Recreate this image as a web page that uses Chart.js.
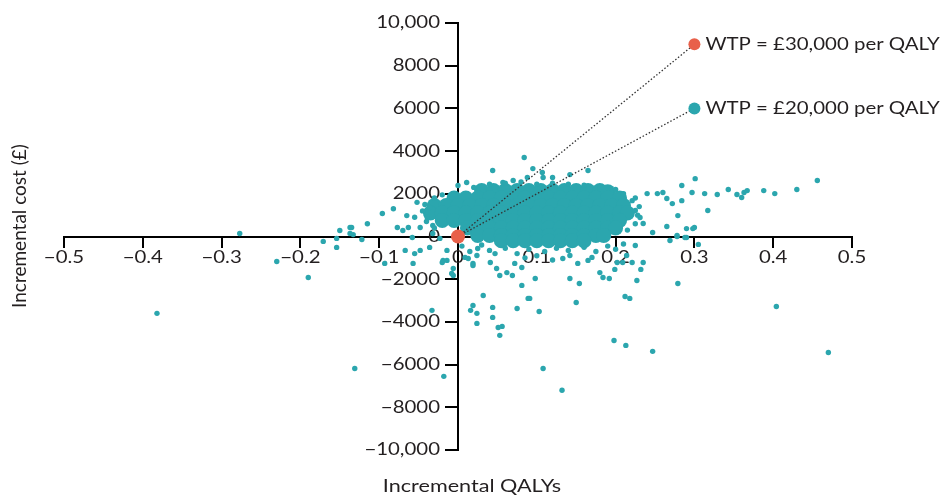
<!DOCTYPE html>
<html>
<head>
<title>Cost-effectiveness plane</title>
<script src="https://cdn.jsdelivr.net/npm/chart.js"></script>
<style>
 body { margin: 0; background: #fff; }
 #wrap { width: 952px; height: 498px; }
</style>
</head>
<body>
<div id="wrap"><canvas id="plane"></canvas></div>
<script>
// axis ticks and their labels
const xTickValues = [-0.5, -0.4, -0.3, -0.2, -0.1, 0, 0.1, 0.2, 0.3, 0.4, 0.5];
const xTickLabels = ['\u22120.5', '\u22120.4', '\u22120.3', '\u22120.2', '\u22120.1', '0', '0.1', '0.2', '0.3', '0.4', '0.5'];
const yTickValues = [-10000, -8000, -6000, -4000, -2000, 0, 2000, 4000, 6000, 8000, 10000];
const yTickLabels = ['\u221210,000', '\u22128000', '\u22126000', '\u22124000', '\u22122000', '0', '2000', '4000', '6000', '8000', '10,000'];

// dense centre of the simulation cloud [QALY, cost]
const cloudCore = [
 [0.03,2150],[0.045,2150],[0.06,2150],[0.075,2150],[0.09,2150],[0.105,2150],[0.12,2150],[0.135,2150],[0.15,2150],[0.165,2150],[0.18,2150],[0.19,2100],
 [-0.005,1800],[0.01,1800],[0.025,1800],[0.04,1800],[0.055,1800],[0.07,1800],[0.085,1800],[0.1,1800],[0.115,1800],[0.13,1800],[0.145,1800],[0.16,1800],[0.175,1800],[0.19,1800],[0.205,1800],
 [-0.03,1450],[-0.015,1450],[0,1450],[0.015,1450],[0.03,1450],[0.045,1450],[0.06,1450],[0.075,1450],[0.09,1450],[0.105,1450],[0.12,1450],[0.135,1450],[0.15,1450],[0.165,1450],[0.18,1450],[0.195,1450],[0.21,1450],
 [-0.035,1100],[-0.02,1100],[-0.005,1100],[0.01,1100],[0.025,1100],[0.04,1100],[0.055,1100],[0.07,1100],[0.085,1100],[0.1,1100],[0.115,1100],[0.13,1100],[0.145,1100],[0.16,1100],[0.175,1100],[0.19,1100],[0.205,1100],[0.215,1100],
 [-0.02,750],[-0.005,750],[0.01,750],[0.025,750],[0.04,750],[0.055,750],[0.07,750],[0.085,750],[0.1,750],[0.115,750],[0.13,750],[0.145,750],[0.16,750],[0.175,750],[0.19,750],[0.205,750],
 [0.012,400],[0.025,400],[0.04,400],[0.055,400],[0.07,400],[0.085,400],[0.1,400],[0.115,400],[0.13,400],[0.145,400],[0.16,400],[0.175,400],[0.19,400],[0.2,400],
 [0.025,50],[0.04,50],[0.055,50],[0.07,50],[0.085,50],[0.1,50],[0.115,50],[0.13,50],[0.145,50],[0.16,50],[0.175,50],[0.185,50],
 [0.055,-200],[0.07,-200],[0.085,-200],[0.1,-200],[0.115,-200],[0.13,-200],[0.145,-200],[0.16,-200]
];

// individual simulations around and outside the centre [QALY, cost]
const cloudOuter = [
 [-0.277,140],[-0.15,280],[-0.137,420],[-0.115,600],[-0.122,-140],[-0.096,1080],[-0.082,1300],[-0.077,420],[-0.07,280],
 [-0.063,420],[-0.052,1600],[-0.055,900],[-0.058,-50],[-0.032,520],[-0.171,-230],[-0.154,-510],[-0.135,420],[-0.065,980],
 [-0.154,-90],[-0.137,140],[-0.048,-650],[-0.036,-510],[-0.019,-1120],[-0.014,-650],[-0.023,-90],[-0.133,90],
 [-0.382,-3600],[-0.19,-1920],[-0.23,-1170],[-0.093,-1260],[-0.067,-650],[-0.055,-800],[-0.057,-1260],[-0.02,-1220],
 [-0.014,-1120],[-0.006,-1500],[-0.008,-1730],[-0.006,-1830],[-0.033,-3460],[-0.131,-6180],[-0.018,-6550],
 [0.019,-3230],[0.016,-3460],[0.024,-3600],[0.024,-4070],[0.019,-1260],[0.009,-980],[0.013,-1030],[0.019,-1360],
 [0.024,-890],[0.032,-2760],[0.044,-3320],[0.044,-3790],[0.051,-4260],[0.056,-4210],[0.053,-4630],[0.075,-3370],
 [0.081,-2290],[0.089,-2900],[0.049,-1500],[0.053,-1830],[0.062,-1690],[0.069,-1830],[0.072,-1260],[0.081,-1450],
 [0.041,-1220],[0.047,-800],[0.025,-560],[0.091,-2900],[0.103,-3510],[0.108,-6180],[0.132,-7200],[0.098,-1970],
 [0.142,-1970],[0.154,-2200],[0.15,-3090],[0.133,-1030],[0.142,-890],[0.152,-1260],[0.165,-1120],[0.17,-980],
 [0.18,-1690],[0.184,-1920],[0.192,-1970],[0.199,-1540],[0.202,-1220],[0.209,-1220],[0.214,-890],[0.221,-1220],
 [0.225,-420],[0.227,-2060],[0.232,-1540],[0.235,-1220],[0.212,-2810],[0.218,-2900],[0.198,-4870],[0.213,-5100],
 [0.247,-5380],[0.279,-2200],[0.305,-370],[0.269,-190],[0.278,0],[0.29,-50],[0.404,-3280],[0.47,-5430],
 [0.095,3180],[0.107,3000],[0.108,2760],[0.12,2760],[0.142,2900],[0.165,3090],[0.24,2010],[0.253,2010],
 [0.26,2060],[0.265,1780],[0.272,1540],[0.284,2390],[0.297,2060],[0.301,2710],[0.313,2010],[0.317,1220],
 [0.284,1680],[0.279,980],[0.265,470],[0.29,370],[0.298,370],[0.278,50],[0.247,190],[0.235,610],[0.231,890],
 [0.225,1220],[0.221,1680],[0.329,1970],[0.343,2200],[0.354,1970],[0.36,1830],[0.363,2060],[0.367,2150],
 [0.388,2150],[0.402,2010],[0.43,2200],[0.456,2620],[0.288,-50],[0.3,420],
 [0,2390],[0.011,2530],[0.044,3090],[0.057,2530],[0.07,2620],[0.084,3700],[0.088,2760],
 [-0.039,890],[-0.036,1360],[-0.048,420],[-0.032,140],
 [0.005,-450],[0.015,-700],[0.03,-400],[0.04,-650],[0.06,-550],[0.075,-800],[0.09,-600],[0.11,-700],
 [0.125,-550],[0.14,-650],[0.16,-500],[0.175,-700],[0.19,-450],[0.2,-600],[0.21,-350],[0.085,-1000],
 [0.1,-900],[0.12,-1100],
 [0.02,2300],[0.04,2450],[0.06,2500],[0.08,2550],[0.1,2450],[0.12,2500],[0.14,2450],[0.16,2400],
 [0.18,2300],[0.2,2200],[0.21,2000],[0.225,1800],[0.23,1400],[0.228,1000],[0.225,600],[0.215,300],
 [-0.045,1200],[-0.042,1500],[-0.03,1800],[-0.02,1950],[-0.04,700],[-0.03,400]
];

// willingness-to-pay thresholds
const wtpLabels = ['WTP = \u00a330,000 per QALY', 'WTP = \u00a320,000 per QALY'];
const wtpQaly = [0.3, 0.3];
const wtpCost = [9000, 6000];
const origin = [0, 0];

const teal = '#2ba6ae';
const red = '#e8604a';
const ink = '#231f20';
const font = 'Lato, "Open Sans", sans-serif';
const stretch = 1.2; // the reference lettering is set wide

function pts(list) {
 return list.map(p => ({ x: p[0], y: p[1] }));
}

function wideText(ctx, t, x, y) {
 ctx.save();
 ctx.translate(x, y);
 ctx.scale(stretch, 1);
 ctx.fillText(t, 0, 0);
 ctx.restore();
}

// tick labels, WTP captions and axis titles (under the points, as in the original)
const textPlugin = {
 id: 'planeText',
 beforeDatasetsDraw(chart) {
  const ctx = chart.ctx;
  const xs = chart.scales.x, ys = chart.scales.y;
  const x0 = xs.getPixelForValue(0), y0 = ys.getPixelForValue(0);
  ctx.save();
  ctx.fillStyle = ink;
  ctx.textBaseline = 'middle';
  ctx.font = '17px ' + font;

  ctx.textAlign = 'center';
  xTickValues.forEach((v, i) => wideText(ctx, xTickLabels[i], xs.getPixelForValue(v), y0 + 21));
  ctx.textAlign = 'right';
  yTickValues.forEach((v, i) => wideText(ctx, yTickLabels[i], x0 - 18, ys.getPixelForValue(v)));

  ctx.textAlign = 'left';
  wtpLabels.forEach((t, i) => {
   wideText(ctx, t, xs.getPixelForValue(wtpQaly[i]) + 11, ys.getPixelForValue(wtpCost[i]));
  });

  ctx.font = '18px ' + font;
  ctx.textAlign = 'center';
  wideText(ctx, 'Incremental QALYs', 472, 486);
  ctx.font = '19px ' + font;
  ctx.translate(20, 226);
  ctx.rotate(-Math.PI / 2);
  ctx.fillText('Incremental cost (\u00a3)', 0, 0);
  ctx.restore();
 }
};

const ctx = document.getElementById('plane').getContext('2d');
const chart = new Chart(ctx, {
 type: 'scatter',
 data: {
  datasets: [
   {
    label: 'WTP £30,000',
    data: [{ x: origin[0], y: origin[1] }, { x: wtpQaly[0], y: wtpCost[0] }],
    showLine: true,
    borderColor: '#333',
    borderWidth: 1.3,
    borderDash: [1.5, 2],
    pointRadius: 0,
    order: 1
   },
   {
    label: 'WTP £20,000',
    data: [{ x: origin[0], y: origin[1] }, { x: wtpQaly[1], y: wtpCost[1] }],
    showLine: true,
    borderColor: '#333',
    borderWidth: 1.3,
    borderDash: [1.5, 2],
    pointRadius: 0,
    order: 1
   },
   {
    label: 'markers',
    data: [{ x: origin[0], y: origin[1] }, { x: wtpQaly[0], y: wtpCost[0] }, { x: wtpQaly[1], y: wtpCost[1] }],
    backgroundColor: [red, red, teal],
    borderWidth: 0,
    pointRadius: [7, 6, 6],
    order: 0
   },
   {
    label: 'outer',
    data: pts(cloudOuter),
    backgroundColor: teal,
    borderWidth: 0,
    pointRadius: 2.7,
    order: 2
   },
   {
    label: 'core',
    data: pts(cloudCore),
    backgroundColor: teal,
    borderWidth: 0,
    pointRadius: 7.5,
    order: 3
   }
  ]
 },
 options: {
  responsive: true,
  maintainAspectRatio: false,
  animation: false,
  events: [],
  layout: { padding: { left: 64, right: 100, top: 23, bottom: 48 } },
  plugins: {
   legend: { display: false },
   tooltip: { enabled: false }
  },
  scales: {
   x: {
    type: 'linear',
    min: -0.5,
    max: 0.5,
    position: { y: 0 },
    border: { color: '#000', width: 2 },
    grid: { drawOnChartArea: false, tickLength: 10, tickColor: '#000', lineWidth: 2 },
    ticks: { stepSize: 0.1, display: false }
   },
   y: {
    type: 'linear',
    min: -10000,
    max: 10000,
    position: { x: 0 },
    border: { color: '#000', width: 2 },
    grid: { drawOnChartArea: false, tickLength: 12, tickColor: '#000', lineWidth: 2 },
    ticks: { stepSize: 2000, display: false }
   }
  }
 },
 plugins: [textPlugin]
});
</script>
</body>
</html>
